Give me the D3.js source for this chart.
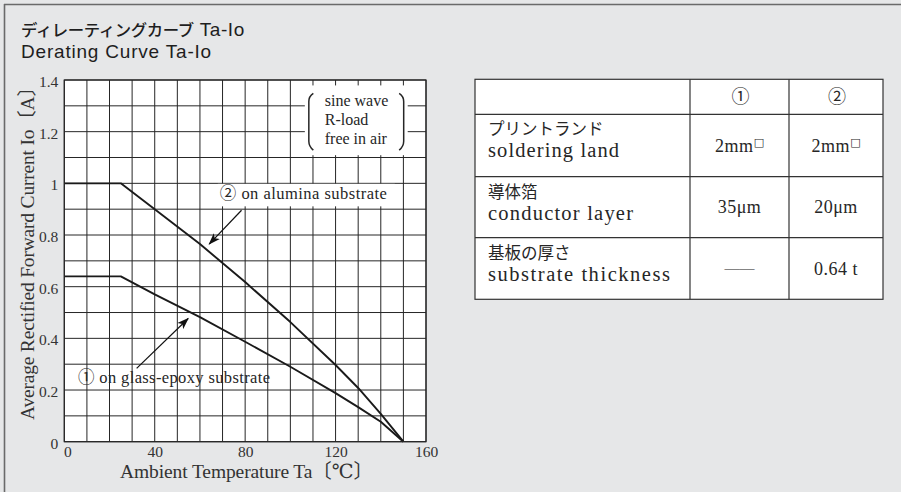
<!DOCTYPE html>
<html><head><meta charset="utf-8">
<script src="https://cdn.jsdelivr.net/npm/d3@7"></script>
<style>
html,body{margin:0;padding:0;background:#e6e7e8;}
svg{display:block;}
</style></head>
<body>
<svg id="chart" width="901" height="492"></svg>
<script>
// ---------- data ----------
const tempTicks = [0, 40, 80, 120, 160];
const currentTicks = [0, 0.2, 0.4, 0.6, 0.8, 1, 1.2, 1.4];
const aluminaTemp = [0, 25, 40, 60, 80, 100, 120, 130, 140, 150];
const aluminaIo   = [1.0, 1.0, 0.9, 0.765, 0.618, 0.463, 0.297, 0.208, 0.108, 0];
const epoxyTemp = [0, 25, 40, 60, 80, 100, 120, 130, 140, 150];
const epoxyIo   = [0.64, 0.64, 0.57, 0.482, 0.387, 0.29, 0.188, 0.134, 0.077, 0];
const conditionLines = ["sine wave", "R-load", "free in air"];
const label1 = "\u2460 on glass-epoxy substrate";
const label2 = "\u2461 on alumina substrate";
const tableHead = ["", "\u2460", "\u2461"];
const rowJa = ["プリントランド", "導体箔", "基板の厚さ"];
const rowEn = ["soldering land", "conductor layer", "substrate thickness"];
const col1Vals = ["2mm\u25A1", "35\u03BCm", "\u2014\u2014"];
const col2Vals = ["2mm\u25A1", "20\u03BCm", "0.64 t"];

const SERIF = "'Liberation Serif','DejaVu Serif','Noto Sans CJK JP',serif";
const SANS = "'Liberation Sans',Arial,sans-serif";
const JP = "'Noto Sans CJK JP',sans-serif";
const INK = "#262626";

const svg = d3.select("#chart");
svg.append("rect").attr("width", 901).attr("height", 492).attr("fill", "#e6e7e8");
svg.append("line").attr("x1", 4).attr("x2", 901).attr("y1", 4.5).attr("y2", 4.5)
  .attr("stroke", "#6a6a6a").attr("stroke-width", 1.6);
svg.append("line").attr("x1", 4.5).attr("x2", 4.5).attr("y1", 4).attr("y2", 492)
  .attr("stroke", "#6a6a6a").attr("stroke-width", 1.6);

// title
const t1 = svg.append("text").attr("x", 21).attr("y", 35.5)
  .style("font-family", SANS).style("font-size", "19px").attr("fill", "#1e1e1e").attr("letter-spacing", 0.6);
t1.append("tspan").style("font-family", JP).style("font-size", "16.4px").style("font-weight", 500)
  .attr("letter-spacing", -0.4).text("ディレーティングカーブ");
t1.append("tspan").text(" Ta-Io");
svg.append("text").attr("x", 21).attr("y", 58)
  .style("font-family", SANS).style("font-size", "19px").attr("fill", "#1e1e1e")
  .attr("letter-spacing", 0.8).text("Derating Curve Ta-Io");

// ---------- chart ----------
const x = d3.scaleLinear().domain([0, 160]).range([64.3, 426]);
const y = d3.scaleLinear().domain([0, 1.4]).range([441.7, 80]);

svg.append("rect").attr("x", x(0)).attr("y", y(1.4))
  .attr("width", x(160) - x(0)).attr("height", y(0) - y(1.4)).attr("fill", "#fff");

const grid = svg.append("g").attr("stroke", "#262626").attr("stroke-width", 1);
d3.range(0, 161, 10).forEach(t => grid.append("line")
  .attr("x1", x(t)).attr("x2", x(t)).attr("y1", y(0)).attr("y2", y(1.4)));
d3.range(0, 15).forEach(i => grid.append("line")
  .attr("x1", x(0)).attr("x2", x(160)).attr("y1", y(i / 10)).attr("y2", y(i / 10)));

// annotation boxes (data units)
const legendBox = {t0: 106.4, t1: 151.9, v0: 1.379, v1: 1.109};
svg.append("rect").attr("x", x(legendBox.t0)).attr("y", y(legendBox.v0))
  .attr("width", x(legendBox.t1) - x(legendBox.t0)).attr("height", y(legendBox.v1) - y(legendBox.v0))
  .attr("fill", "#fff");
const lb = {x0: x(legendBox.t0), x1: x(legendBox.t1), y0: y(legendBox.v0), y1: y(legendBox.v1)};
const paren = svg.append("g").attr("fill", "none").attr("stroke", INK).attr("stroke-width", 1.5);
paren.append("path").attr("d",
  `M${lb.x0 + 8.5},${lb.y0 + 8} Q${lb.x0 + 4},${lb.y0 + 11} ${lb.x0 + 4},${lb.y0 + 16} L${lb.x0 + 4},${lb.y1 - 14} Q${lb.x0 + 4},${lb.y1 - 9} ${lb.x0 + 8.5},${lb.y1 - 5}`);
paren.append("path").attr("d",
  `M${lb.x1 - 8.5},${lb.y0 + 8} Q${lb.x1 - 4},${lb.y0 + 11} ${lb.x1 - 4},${lb.y0 + 16} L${lb.x1 - 4},${lb.y1 - 14} Q${lb.x1 - 4},${lb.y1 - 9} ${lb.x1 - 8.5},${lb.y1 - 5}`);
const condBase = [1.298, 1.225, 1.151];
conditionLines.forEach((s, i) => svg.append("text")
  .attr("x", x(115.2)).attr("y", y(condBase[i]))
  .style("font-family", SERIF).style("font-size", "16px").attr("fill", INK).text(s));

const label2Box = {t0: 67.9, t1: 146.2, v0: 1.0, v1: 0.911};
svg.append("rect").attr("x", x(label2Box.t0)).attr("y", y(label2Box.v0) + 0.5)
  .attr("width", x(label2Box.t1) - x(label2Box.t0)).attr("height", y(label2Box.v1) - y(label2Box.v0) - 0.5)
  .attr("fill", "#fff");
svg.append("text").attr("x", x(68.8)).attr("y", y(0.940))
  .style("font-family", SERIF).style("font-size", "16.5px").attr("fill", INK)
  .attr("textLength", 167).attr("lengthAdjust", "spacing").text(label2);
svg.append("text").attr("x", x(6.06)).attr("y", y(0.227))
  .style("font-family", SERIF).style("font-size", "16.5px").attr("fill", INK)
  .attr("textLength", 192).attr("lengthAdjust", "spacing").text(label1);

// curves
const line = d3.line().x(d => x(d[0])).y(d => y(d[1]));
[d3.zip(aluminaTemp, aluminaIo), d3.zip(epoxyTemp, epoxyIo)].forEach(pts =>
  svg.append("path").datum(pts).attr("d", line)
    .attr("fill", "none").attr("stroke", "#1a1a1a").attr("stroke-width", 1.9).attr("stroke-linejoin", "round"));

// arrows
svg.append("defs").append("marker").attr("id", "ah").attr("viewBox", "0 0 12 10")
  .attr("refX", 11).attr("refY", 5).attr("markerWidth", 12).attr("markerHeight", 10)
  .attr("markerUnits", "userSpaceOnUse").attr("orient", "auto")
  .append("path").attr("d", "M0,0.8 L12,5 L0,9.2 L3,5 Z").attr("fill", "#111");
const arrows = [
  {from: [78.4, 0.896], to: [64.1, 0.765]},
  {from: [32.0, 0.284], to: [54.8, 0.477]}
];
arrows.forEach(a => svg.append("line")
  .attr("x1", x(a.from[0])).attr("y1", y(a.from[1]))
  .attr("x2", x(a.to[0])).attr("y2", y(a.to[1]))
  .attr("stroke", "#111").attr("stroke-width", 1.2).attr("marker-end", "url(#ah)"));

// frame
svg.append("rect").attr("x", x(0)).attr("y", y(1.4))
  .attr("width", x(160) - x(0)).attr("height", y(0) - y(1.4))
  .attr("fill", "none").attr("stroke", "#262626").attr("stroke-width", 1.2);

// axes
const yAxis = svg.append("g").attr("transform", `translate(${x(0)},0)`)
  .call(d3.axisLeft(y).tickValues(currentTicks).tickSize(0).tickPadding(6).tickFormat(d3.format("~g")));
yAxis.select(".domain").remove();
yAxis.selectAll("text").style("font-family", SERIF).style("font-size", "15.5px").attr("fill", "#333").attr("dy", "0.42em");

const xAxis = svg.append("g").attr("transform", `translate(0,${y(0)})`)
  .call(d3.axisBottom(x).tickValues(tempTicks).tickSize(0).tickPadding(4).tickFormat(d3.format("d")));
xAxis.select(".domain").remove();
xAxis.selectAll("text").style("font-family", SERIF).style("font-size", "15.5px").attr("fill", "#333")
  .attr("dx", d => d === 0 ? 3 : 0);

svg.append("text").attr("x", 246.5).attr("y", 478).attr("text-anchor", "middle")
  .style("font-family", SERIF).style("font-size", "19.5px").attr("fill", "#333")
  .attr("textLength", 253).attr("lengthAdjust", "spacing")
  .text("Ambient Temperature Ta\u3014\u2103\u3015");
svg.append("text").attr("transform", "translate(34,248.5) rotate(-90)").attr("text-anchor", "middle")
  .style("font-family", SERIF).style("font-size", "19.5px").attr("fill", "#333")
  .attr("textLength", 343).attr("lengthAdjust", "spacing")
  .text("Average Rectified Forward Current Io\u3014A\u3015");

// ---------- table ----------
const colX = [475, 690, 789, 883];
const rowY = [79.3, 114.3, 176.7, 237.7, 299.3];
const tbl = svg.append("g");
tbl.append("rect").attr("x", colX[0]).attr("y", rowY[0])
  .attr("width", colX[3] - colX[0]).attr("height", rowY[4] - rowY[0])
  .attr("fill", "#fff").attr("stroke", "#333").attr("stroke-width", 1.2);
colX.slice(1, 3).forEach(cx => tbl.append("line").attr("x1", cx).attr("x2", cx)
  .attr("y1", rowY[0]).attr("y2", rowY[4]).attr("stroke", "#333").attr("stroke-width", 1.2));
rowY.slice(1, 4).forEach(ry => tbl.append("line").attr("x1", colX[0]).attr("x2", colX[3])
  .attr("y1", ry).attr("y2", ry).attr("stroke", "#333").attr("stroke-width", 1.2));

tableHead.forEach((h, i) => {
  if (!h) return;
  tbl.append("text").attr("x", (colX[i] + colX[i + 1]) / 2 + 1).attr("y", (rowY[0] + rowY[1]) / 2 + 6)
    .attr("text-anchor", "middle").style("font-family", JP).style("font-size", "18px").attr("fill", INK).text(h);
});
const enWidths = [131, 145, 182];
rowJa.forEach((s, i) => {
  tbl.append("text").attr("x", 488).attr("y", rowY[i + 1] + 21)
    .style("font-family", JP).style("font-size", "16.5px").attr("fill", INK)
    .attr("letter-spacing", 0).text(s);
  tbl.append("text").attr("x", 488).attr("y", rowY[i + 1] + 43)
    .style("font-family", SERIF).style("font-size", "20.5px").attr("fill", INK)
    .attr("textLength", enWidths[i]).attr("lengthAdjust", "spacing").text(rowEn[i]);
});
function valueText(v, cx, cy) {
  const t = tbl.append("text").attr("x", cx).attr("y", cy + 6).attr("text-anchor", "middle")
    .style("font-family", SERIF).style("font-size", "18px").attr("fill", INK);
  if (v.endsWith("\u25A1")) {
    t.append("tspan").attr("letter-spacing", 0.6).text(v.slice(0, -1));
    t.append("tspan").attr("dy", -6).style("font-size", "11px").style("font-family", "'DejaVu Sans',sans-serif").text("\u25A1");
  } else if (v.startsWith("\u2014")) {
    t.style("font-size", "15px").attr("y", cy + 4).text(v);
  } else {
    t.attr("letter-spacing", 0.5).text(v);
  }
}
col1Vals.forEach((v, i) => valueText(v, (colX[1] + colX[2]) / 2, (rowY[i + 1] + rowY[i + 2]) / 2));
col2Vals.forEach((v, i) => valueText(v, (colX[2] + colX[3]) / 2, (rowY[i + 1] + rowY[i + 2]) / 2));
</script>
</body></html>
